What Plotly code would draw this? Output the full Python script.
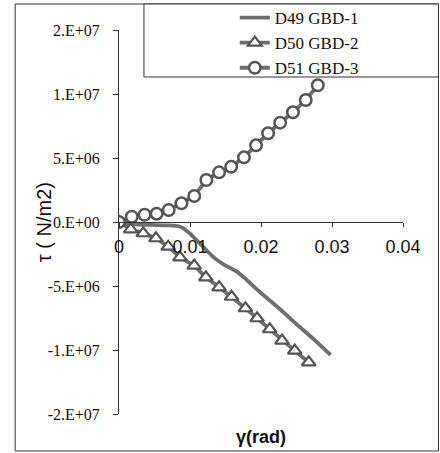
import plotly.graph_objects as go

# ---- data ----
g_d49 = [0, 0.0020, 0.0044, 0.0067, 0.0086, 0.0097, 0.0109, 0.0123, 0.0135, 0.0149,
         0.0166, 0.0180, 0.0198, 0.0217, 0.0236, 0.0254, 0.0273, 0.0298]
t_d49 = [0, -0.16e6, -0.23e6, -0.26e6, -0.37e6, -0.76e6, -1.41e6, -2.19e6, -2.84e6, -3.36e6,
         -3.88e6, -4.53e6, -5.45e6, -6.35e6, -7.27e6, -8.18e6, -9.09e6, -10.39e6]

g_d50 = [0, 0.00165, 0.00342, 0.0052, 0.00693, 0.00858, 0.01059, 0.01223, 0.0141, 0.01585,
         0.01781, 0.01945, 0.02123, 0.02296, 0.02475, 0.02672]
t_d50 = [0, -0.57e6, -0.88e6, -1.27e6, -1.93e6, -2.76e6, -3.41e6, -4.32e6, -5.10e6, -5.84e6,
         -6.74e6, -7.52e6, -8.38e6, -9.27e6, -10.05e6, -10.96e6]

g_d51 = [0, 0.0018, 0.0036, 0.0053, 0.0070, 0.0088, 0.0106, 0.0123, 0.0141, 0.0158,
         0.0176, 0.0193, 0.0210, 0.0227, 0.0245, 0.0263, 0.0280]
t_d51 = [0, 0.41e6, 0.57e6, 0.65e6, 0.94e6, 1.46e6, 2.03e6, 3.28e6, 3.88e6, 4.32e6,
         5.05e6, 5.99e6, 6.93e6, 7.76e6, 8.57e6, 9.53e6, 10.68e6]

names = ["D49 GBD-1", "D50 GBD-2", "D51 GBD-3"]

y_tickvals = [-1.5e7, -1.0e7, -5e6, 0, 5e6, 1.0e7, 1.5e7]
y_ticktext = ["-2.E+07", "-1.E+07", "-5.E+06", "0.E+00", "5.E+06", "1.E+07", "2.E+07"]
x_tickvals = [0, 0.01, 0.02, 0.03, 0.04]
x_ticktext = ["0", "0.01", "0.02", "0.03", "0.04"]

# ---- layout geometry (pixels) ----
W, H = 440, 453
L, R, T, B = 119, 403.5, 30, 414


def px(x):
    return (x - L) / (R - L)


def py(y):
    return (B - y) / (B - T)


LC = "#6f6f6f"
MC = "#555555"
fig = go.Figure()
fig.add_trace(go.Scatter(x=g_d49, y=t_d49, mode="lines", name=names[0],
                         line=dict(color=LC, width=3.8, shape="spline", smoothing=0.8)))
fig.add_trace(go.Scatter(x=g_d50, y=t_d50, mode="lines+markers", name=names[1],
                         line=dict(color=LC, width=3.8),
                         marker=dict(symbol="triangle-up", size=12, color="white",
                                     line=dict(color=MC, width=2.2))))
fig.add_trace(go.Scatter(x=g_d51, y=t_d51, mode="lines+markers", name=names[2],
                         line=dict(color=LC, width=3.8),
                         marker=dict(symbol="circle", size=11.5, color="white",
                                     line=dict(color=MC, width=2.5))))

serif = "Liberation Serif"
sans = "Liberation Sans"

fig.update_layout(
    width=W, height=H,
    margin=dict(l=L, r=W - R, t=T, b=H - B, pad=0, autoexpand=False),
    paper_bgcolor="white", plot_bgcolor="white",
    showlegend=True,
    legend=dict(x=px(235), y=py(0), xanchor="left", yanchor="top",
                bgcolor="rgba(0,0,0,0)", borderwidth=0,
                font=dict(family=serif, size=17, color="#111"),
                tracegroupgap=0),
    xaxis=dict(range=[0, 0.04], tickvals=x_tickvals, ticktext=x_ticktext,
               anchor="free", position=0.5, showline=True, linecolor="#333",
               linewidth=1, ticks="outside", ticklen=4, tickcolor="#333",
               showgrid=False, zeroline=False, ticklabelstandoff=4,
               tickfont=dict(family=sans, size=18, color="#111")),
    yaxis=dict(range=[-1.5e7, 1.5e7], tickvals=y_tickvals, ticktext=y_ticktext,
               showline=True, linecolor="#333", linewidth=1, ticks="outside",
               ticklen=5, tickcolor="#333", showgrid=False, zeroline=False,
               ticklabelstandoff=10,
               tickfont=dict(family=serif, size=16, color="#111")),
    shapes=[
        dict(type="rect", xref="paper", yref="paper", x0=px(15), x1=px(439),
             y0=py(451), y1=py(4), line=dict(color="#333", width=1), layer="below"),
        dict(type="rect", xref="paper", yref="paper", x0=px(144), x1=px(439),
             y0=py(77), y1=py(4), line=dict(color="#333", width=1),
             fillcolor="white", layer="below"),
    ],
    annotations=[
        dict(text="τ ( N/m2)", xref="paper", yref="paper", x=px(44), y=py(222),
             showarrow=False, textangle=-90, xanchor="center", yanchor="middle",
             font=dict(family=sans, size=20, color="#111")),
        dict(text="<b>γ(rad)</b>", xref="paper", yref="paper", x=px(261), y=py(437),
             showarrow=False, xanchor="center", yanchor="middle",
             font=dict(family=sans, size=18, color="#111")),
    ],
)

fig.write_html("out.html")
